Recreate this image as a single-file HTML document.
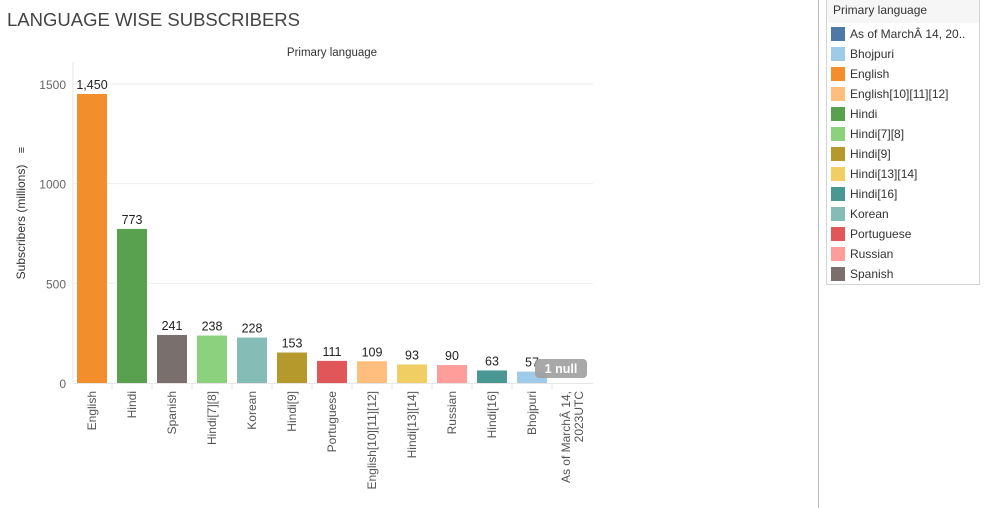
<!DOCTYPE html>
<html><head><meta charset="utf-8"><style>
body{margin:0;width:986px;height:508px;background:#fff;font-family:"Liberation Sans",sans-serif;overflow:hidden;position:relative}
.t{position:absolute;white-space:nowrap}
</style></head><body>
<div class="t" style="left:7px;top:9px;font-size:18.5px;color:#444">LANGUAGE WISE SUBSCRIBERS</div>
<div style="position:absolute;left:818px;top:0;width:1px;height:508px;background:#b8b8b8"></div>
<div style="position:absolute;left:826px;top:0;width:152px;height:284px;border:1px solid #d4d4d4;border-top:none;background:#fff">
<div style="background:#f6f6f6;height:23px;font-size:12px;color:#333;padding-left:6px;line-height:20px">Primary language</div>
<div id="leg"></div></div>
<svg id="c" width="986" height="508" style="position:absolute;left:0;top:0"></svg>
<script>
const categories=["English","Hindi","Spanish","Hindi[7][8]","Korean","Hindi[9]","Portuguese","English[10][11][12]","Hindi[13][14]","Russian","Hindi[16]","Bhojpuri","As of MarchÂ 14, 2023UTC"];
const values=[1450,773,241,238,228,153,111,109,93,90,63,57,null];
const labels=["1,450","773","241","238","228","153","111","109","93","90","63","57",""];
const ticks=[0,500,1000,1500];
const legendNames=["As of MarchÂ 14, 20..","Bhojpuri","English","English[10][11][12]","Hindi","Hindi[7][8]","Hindi[9]","Hindi[13][14]","Hindi[16]","Korean","Portuguese","Russian","Spanish"];
const legendColors=["#4e79a7","#a0cbe8","#f28e2b","#ffbe7d","#59a14f","#8cd17d","#b6992d","#f1ce63","#499894","#86bcb6","#e15759","#ff9d9a","#79706e"];
const colorOf=n=>legendColors[legendNames.indexOf(n)]||"#4e79a7";
const NS="http://www.w3.org/2000/svg",svg=document.getElementById('c');
const y=v=>383-v*299/1500, x=i=>77+i*40;
function mk(t,a,txt){const e=document.createElementNS(NS,t);for(const k in a)e.setAttribute(k,a[k]);if(txt!=null)e.textContent=txt;svg.appendChild(e);return e;}
let e=mk('text',{x:332,y:56,'font-size':11.5,fill:'#333','text-anchor':'middle','font-family':'Liberation Sans'},'Primary language');


ticks.forEach(t=>{
 if(t>0){const g=mk('line',{x1:73,x2:593,y1:y(t),y2:y(t),stroke:'#eeeeee'});
 
 }
 const l=mk('text',{x:66,y:y(t)+5,'font-size':12,fill:'#666','text-anchor':'end','font-family':'Liberation Sans'},t);
 
 
});
e=mk('line',{x1:73,x2:73,y1:62,y2:383,stroke:'#e6e6e6'});


e=mk('line',{x1:73,x2:593,y1:383.5,y2:383.5,stroke:'#e6e6e6'});


e=mk('text',{transform:'translate(25,222) rotate(-90)','font-size':12,fill:'#333','text-anchor':'middle','font-family':'Liberation Sans'},'Subscribers (millions)');


e=mk('text',{transform:'translate(25,150) rotate(-90)','font-size':11,'font-weight':'bold',fill:'#333','text-anchor':'middle','font-family':'Liberation Sans'},'≡');


categories.forEach((c,i)=>{
 if(i>0){const s=mk('line',{x1:x(i)-5,x2:x(i)-5,y1:384,y2:390,stroke:'#e6e6e6'});
 
 }
 const v=values[i];
 if(v!=null){
  const b=mk('rect',{x:x(i),y:y(v),width:30,height:383-y(v),fill:colorOf(c)});
  
  
  const t=mk('text',{x:x(i)+15,y:y(v)-5,'font-size':12.5,fill:'#222','text-anchor':'middle','font-family':'Liberation Sans'},labels[i]);
  
  
 }
 const lines=c.startsWith("As of")?["As of MarchÂ 14,","2023UTC"]:[c];
 lines.forEach((ln,k)=>{
  const cx=x(i)+15+(lines.length>1?(k?7:-6):0)+4;
  const t=mk('text',{transform:`translate(${cx},391) rotate(-90)`,'font-size':12,fill:'#555','text-anchor':'end','font-family':'Liberation Sans'},ln);
  
  
 });
});
e=mk('rect',{x:535,y:359,width:52,height:19,rx:4,fill:'#9e9e9e',opacity:0.9});


e=mk('text',{x:561,y:373,'font-size':12.5,'font-weight':'bold',fill:'#fff','text-anchor':'middle','font-family':'Liberation Sans'},'1 null');


const leg=document.getElementById('leg');
legendNames.forEach((n,i)=>{
 const d=document.createElement('div');
 
 
 d.style.cssText=`position:absolute;left:4px;top:${27+i*20}px;height:14px;font-size:12px;color:#333;line-height:14px;white-space:nowrap`;
 d.innerHTML=`<span style="display:inline-block;width:14px;height:14px;background:${legendColors[i]};vertical-align:top;margin-right:5px"></span>${n}`;
 leg.appendChild(d);
});
</script></body></html>
